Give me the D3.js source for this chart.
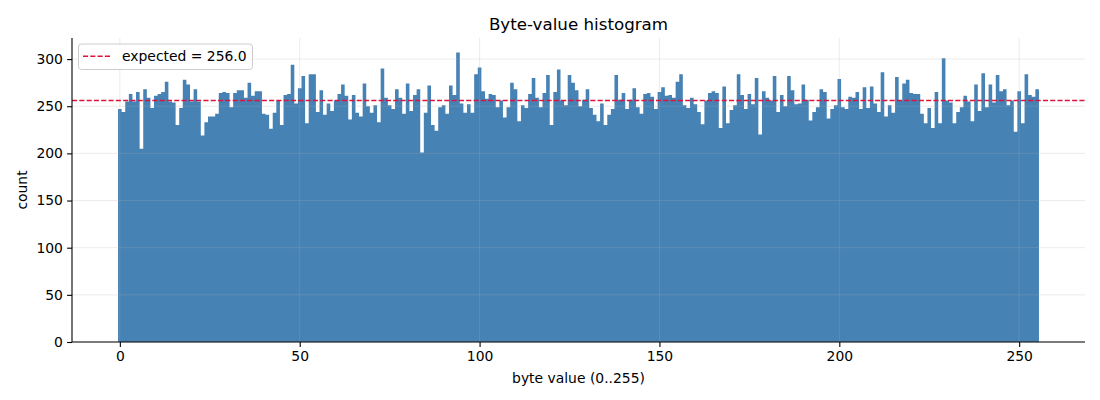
<!DOCTYPE html>
<html>
<head>
<meta charset="utf-8">
<script src="https://cdn.jsdelivr.net/npm/d3@7"></script>
<style>
  body { margin: 0; background: #fff; }
  svg { display: block; font-family: "DejaVu Sans", sans-serif; }
</style>
</head>
<body>
<svg width="1100" height="400"></svg>
<script>
// counts per byte value 0..255
const counts = [
  247, 244, 255, 263, 255, 265, 205, 268, 259, 248,
  261, 263, 265, 276, 255, 254, 230, 248, 278, 273,
  255, 268, 255, 219, 233, 239, 239, 242, 264, 265,
  264, 249, 264, 267, 267, 259, 275, 261, 266, 266,
  242, 241, 226, 243, 256, 230, 262, 263, 294, 253,
  269, 282, 232, 284, 284, 244, 267, 241, 253, 245,
  256, 263, 273, 261, 236, 262, 243, 239, 274, 250,
  243, 251, 233, 290, 259, 251, 247, 268, 259, 242,
  274, 245, 262, 268, 201, 243, 272, 230, 224, 249,
  251, 242, 272, 262, 307, 253, 243, 252, 243, 284,
  291, 266, 258, 263, 262, 249, 256, 238, 249, 275,
  268, 234, 251, 248, 263, 280, 259, 249, 264, 283,
  230, 265, 289, 256, 251, 283, 275, 267, 250, 257,
  268, 248, 241, 234, 253, 230, 241, 247, 283, 257,
  264, 247, 257, 269, 249, 242, 263, 264, 260, 247,
  265, 270, 261, 262, 259, 276, 284, 251, 248, 259,
  252, 244, 231, 256, 264, 266, 264, 227, 271, 232,
  246, 251, 284, 262, 247, 263, 252, 280, 220, 266,
  259, 256, 282, 244, 262, 250, 282, 267, 252, 253,
  273, 257, 235, 244, 249, 268, 265, 237, 247, 251,
  279, 249, 247, 260, 259, 265, 247, 270, 248, 271,
  253, 244, 286, 239, 251, 243, 281, 256, 274, 278,
  264, 263, 263, 242, 232, 248, 227, 265, 232, 301,
  256, 254, 232, 244, 249, 261, 255, 234, 273, 245,
  285, 249, 273, 254, 283, 266, 268, 251, 256, 223,
  266, 232, 284, 262, 260, 268
];
const byteValues = counts.map((c, i) => i);
const expected = 256.0;
const xTicks = [0, 50, 100, 150, 200, 250];
const yTicks = [0, 50, 100, 150, 200, 250, 300];

const chartHistogram = () => {
    const svg = d3.select('svg');
    const left = 72, right = 1085, top = 38, bottom = 342;

    // matplotlib style 5% margins
    const x = d3.scaleLinear().domain([-0.5 - 12.8, 255.5 + 12.8]).range([left, right]);
    const y = d3.scaleLinear().domain([0, d3.max(counts) * 1.05]).range([bottom, top]);
    const last = byteValues.length - 1;

    // bars as one stepped shape: no seams between neighbours
    const edges = byteValues.concat([last + 1]);
    svg.append("path")
        .datum(edges)
        .attr("fill", "steelblue")
        .attr("d", d3.area()
            .curve(d3.curveStepAfter)
            .x(d => x(d - 0.5))
            .y0(y(0))
            .y1(d => y(counts[Math.min(d, last)])));

    // grid (drawn above the bars, like the reference)
    const grid = svg.append("g")
        .attr("stroke", "#b0b0b0")
        .attr("stroke-opacity", 0.3)
        .attr("stroke-width", 0.8);
    grid.selectAll("line.gx").data(xTicks).join("line")
        .attr("class", "gx")
        .attr("x1", d => x(d)).attr("x2", d => x(d))
        .attr("y1", top).attr("y2", bottom);
    grid.selectAll("line.gy").data(yTicks).join("line")
        .attr("class", "gy")
        .attr("x1", left).attr("x2", right)
        .attr("y1", d => y(d)).attr("y2", d => y(d));

    // expected line
    svg.append("line")
        .attr("x1", left).attr("x2", right)
        .attr("y1", y(expected)).attr("y2", y(expected))
        .attr("stroke", "crimson")
        .attr("stroke-width", 1.4)
        .attr("stroke-dasharray", "5.1,2.2");

    // axes
    const xAxis = svg.append("g")
        .attr("transform", `translate(0,${bottom})`)
        .call(d3.axisBottom(x).tickValues(xTicks).tickSize(4.9).tickPadding(4.2).tickFormat(d3.format("d")));
    const yAxis = svg.append("g")
        .attr("transform", `translate(${left},0)`)
        .call(d3.axisLeft(y).tickValues(yTicks).tickSize(4.9).tickPadding(4.2).tickFormat(d3.format("d")));

    [xAxis, yAxis].forEach(a => {
        a.select(".domain").attr("stroke", "#000").attr("stroke-width", 1.1);
        a.selectAll(".tick line").attr("stroke", "#000").attr("stroke-width", 1.1);
        a.selectAll(".tick text")
            .attr("font-family", "DejaVu Sans")
            .attr("font-size", 13.9)
            .attr("fill", "#000");
    });
    // drop the outer ticks of the domain path
    xAxis.select(".domain").attr("d", `M${left},0H${right}`);
    yAxis.select(".domain").attr("d", `M0,${bottom}V${top}`);

    // labels
    svg.append("text")
        .attr("x", (left + right) / 2).attr("y", 29.5)
        .attr("text-anchor", "middle")
        .attr("font-size", 16.7)
        .text("Byte-value histogram");

    svg.append("text")
        .attr("x", (left + right) / 2).attr("y", 383)
        .attr("text-anchor", "middle")
        .attr("font-size", 13.9)
        .text("byte value (0..255)");

    svg.append("text")
        .attr("transform", `translate(27,${(top + bottom) / 2}) rotate(-90)`)
        .attr("text-anchor", "middle")
        .attr("font-size", 13.9)
        .text("count");

    // legend
    const lg = svg.append("g").attr("transform", "translate(78.5,44)");
    lg.append("rect")
        .attr("width", 174).attr("height", 25.5)
        .attr("rx", 3)
        .attr("fill", "#fff").attr("fill-opacity", 0.8)
        .attr("stroke", "#cccccc").attr("stroke-width", 1);
    lg.append("line")
        .attr("x1", 4.5).attr("x2", 32.5)
        .attr("y1", 12.3).attr("y2", 12.3)
        .attr("stroke", "crimson")
        .attr("stroke-width", 1.4)
        .attr("stroke-dasharray", "5.1,2.2");
    lg.append("text")
        .attr("x", 43.5).attr("y", 17.3)
        .attr("font-size", 13.9)
        .text(`expected = ${expected.toFixed(1)}`);
};

chartHistogram();
</script>
</body>
</html>
